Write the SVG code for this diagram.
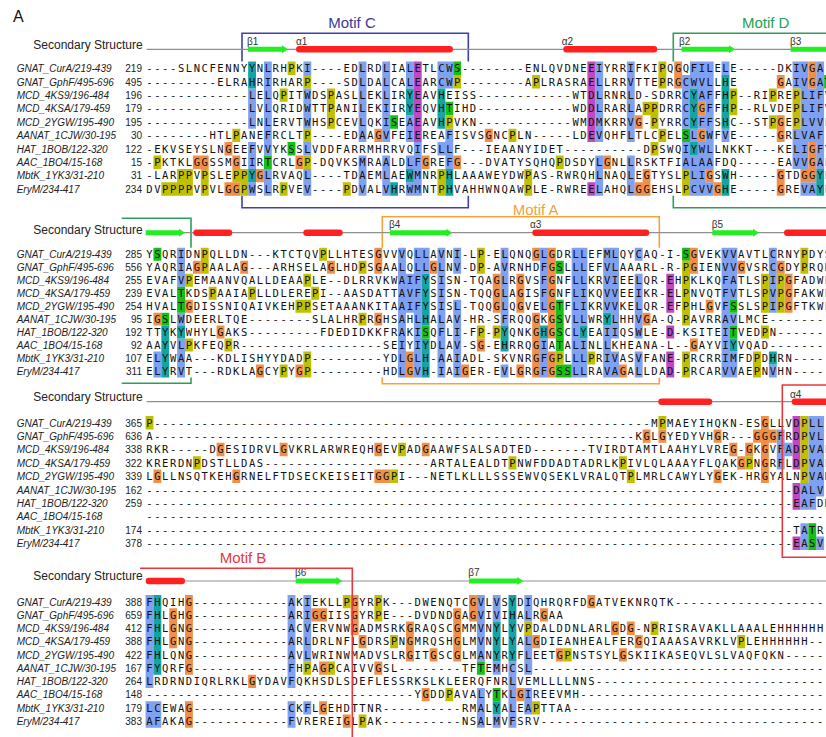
<svg xmlns="http://www.w3.org/2000/svg" width="826" height="737" viewBox="0 0 826 737">
<style>
.b{fill:#80a0f0}.t{fill:#15a4a4}.g{fill:#15c015}.m{fill:#c048c0}.o{fill:#f09048}.y{fill:#c0c000}
.s{font-family:"DejaVu Sans Mono",monospace;font-size:10.5px;letter-spacing:1.5685px;fill:#111}
.n{font-family:"Liberation Sans",Arial,sans-serif;font-size:10px;font-style:italic;fill:#222}
.k{font-family:"Liberation Sans",Arial,sans-serif;font-size:10px;text-anchor:end;fill:#222}
.ss{font-family:"Liberation Sans",Arial,sans-serif;font-size:12px;fill:#222}
.lb{font-family:"Liberation Sans",Arial,sans-serif;font-size:10px;fill:#333}
.mt{font-family:"Liberation Sans",Arial,sans-serif;font-size:15px;text-anchor:middle}
.ln{stroke:#8f8f8f;stroke-width:1.2;fill:none}
.he{fill:#ff2020}.st{fill:#22ee22}
.bx{fill:none;stroke-width:1.6}
</style>
<rect width="826" height="737" fill="#fff"/>
<text x="13" y="21.7" font-family="Liberation Sans, Arial, sans-serif" font-size="16" fill="#111">A</text>

<!-- motif frames (segments outside the alignment rows) -->
<g id="motifs">
<path class="bx" stroke="#4040a8" d="M242 61.6V33.3H468.3V61.6M242 195.7V207.7H468.3V195.7"/>
<path class="bx" stroke="#2e9e5b" d="M826 33.3H673.3V61.6M673.3 195.7V207.7H826M121.7 218.3H191V247.8M191 377.5V383.3H121.7"/>
<path class="bx" stroke="#f5a33a" d="M382.3 247.8V216.7H659.3V247.8M382.3 377.5V383.7H659.3V377.5"/>
<text class="mt" x="352" y="28" fill="#3b3b9e">Motif C</text>
<text class="mt" x="765.7" y="28" fill="#23a152">Motif D</text>
<text class="mt" x="535.7" y="215.2" fill="#f5a03c">Motif A</text>
<text class="mt" x="243" y="563" fill="#e8383a">Motif B</text>
</g>

<!-- secondary structure tracks -->
<g id="ss">
<text class="ss" x="33.3" y="48.6">Secondary Structure</text>
<text class="ss" x="33.3" y="233.6">Secondary Structure</text>
<text class="ss" x="33.3" y="401">Secondary Structure</text>
<text class="ss" x="33.3" y="580">Secondary Structure</text>
<path class="ln" d="M146.7 49.3H826M146.7 232.7H826M146.7 401.7H826M146.7 581H826"/>
<path class="st" d="M248 46.8H282V45.3L288 49.3L282 53.3V51.8H248Z M681.7 46.8H729V45.3L735 49.3L729 53.3V51.8H681.7Z M145.7 230.2H179V228.7L185 232.7L179 236.7V235.2H145.7Z M390 230.2H446.3V228.7L452.3 232.7L446.3 236.7V235.2H390Z M712.3 230.2H753V228.7L759 232.7L753 236.7V235.2H712.3Z M295.7 578.5H336.3V577L342.3 581L336.3 585V583.5H295.7Z M469 578.5H517.3V577L523.3 581L517.3 585V583.5H469Z"/>
<rect class="st" x="790.7" y="46.8" width="40" height="5"/>
<rect class="he" x="296" y="46" width="157" height="6.6" rx="3.3"/>
<rect class="he" x="563.3" y="46" width="94" height="6.6" rx="3.3"/>
<rect class="he" x="193.3" y="229.4" width="39" height="6.6" rx="3.3"/>
<rect class="he" x="303.3" y="229.4" width="39.4" height="6.6" rx="3.3"/>
<rect class="he" x="532.3" y="229.4" width="117" height="6.6" rx="3.3"/>
<rect class="he" x="784" y="229.4" width="50" height="6.6" rx="3.3"/>
<rect class="he" x="658.3" y="398.4" width="54" height="6.6" rx="3.3"/>
<rect class="he" x="791.7" y="398.4" width="40" height="6.6" rx="3.3"/>
<rect class="he" x="145.7" y="577.7" width="39.3" height="6.6" rx="3.3"/>
<text class="lb" x="247" y="45">β1</text>
<text class="lb" x="296" y="45">α1</text>
<text class="lb" x="561.7" y="45">α2</text>
<text class="lb" x="679" y="45">β2</text>
<text class="lb" x="790" y="45">β3</text>
<text class="lb" x="389" y="228">β4</text>
<text class="lb" x="530" y="228">α3</text>
<text class="lb" x="711.7" y="228">β5</text>
<text class="lb" x="790" y="397.5">α4</text>
<text class="lb" x="295" y="576">β6</text>
<text class="lb" x="468.3" y="576">β7</text>
</g>

<!-- block 1 -->
<g id="block1">
<g transform="translate(145.56 61.6) scale(7.89 13.41)">
<path class="b" d="M13 2h1v3h-1zM13 6h1v2h-1zM13 9h1v1h-1zM15 0h1v7h-1zM15 8h1v2h-1zM20 0h1v1h-1zM20 2h1v3h-1zM20 6h1v1h-1zM20 8h1v2h-1zM27 0h1v6h-1zM27 7h1v3h-1zM30 0h1v6h-1zM30 7h1v3h-1zM33 0h1v2h-1zM33 4h1v2h-1zM33 7h1v1h-1zM33 9h1v1h-1zM34 6h1v4h-1zM37 0h1v2h-1zM37 6h1v1h-1zM38 0h1v2h-1zM38 5h1v3h-1zM57 0h1v6h-1zM57 7h1v3h-1zM61 0h1v6h-1zM61 7h1v3h-1zM68 1h1v4h-1zM68 6h1v2h-1zM69 0h1v2h-1zM69 5h1v1h-1zM69 7h1v3h-1zM70 0h1v3h-1zM70 4h1v1h-1zM70 6h1v4h-1zM71 0h1v8h-1zM71 9h1v1h-1zM73 0h1v1h-1zM73 5h1v1h-1zM82 0h1v2h-1zM82 5h1v3h-1zM83 0h1v8h-1zM83 9h1v1h-1zM84 2h1v4h-1zM84 9h1v1h-1zM85 0h1v8h-1z"/>
<path class="t" d="M13 0h1v2h-1zM13 8h1v1h-1zM31 9h1v1h-1zM33 2h1v2h-1zM33 8h1v1h-1zM37 2h1v3h-1zM38 8h1v2h-1zM69 2h1v3h-1zM69 6h1v1h-1zM73 1h1v4h-1zM73 8h1v2h-1zM85 8h1v2h-1z"/>
<path class="g" d="M15 7h1v1h-1zM18 6h1v1h-1zM31 4h1v1h-1zM38 3h1v1h-1zM39 0h1v1h-1zM68 5h1v1h-1zM86 1h1v1h-1z"/>
<path class="m" d="M34 0h1v6h-1zM56 0h1v6h-1zM56 9h1v1h-1z"/>
<path class="o" d="M6 7h2v1h-2zM10 6h1v1h-1zM10 9h2v1h-2zM11 7h1v1h-1zM14 8h1v1h-1zM19 7h1v1h-1zM29 5h1v1h-1zM35 7h1v1h-1zM39 7h1v1h-1zM43 5h1v1h-1zM58 7h1v1h-1zM62 4h1v1h-1zM62 9h2v1h-2zM63 8h1v1h-1zM67 0h1v2h-1zM70 3h1v1h-1zM70 5h1v1h-1zM71 8h1v1h-1zM72 9h1v1h-1zM80 1h1v1h-1zM80 4h1v2h-1zM80 8h1v2h-1zM83 8h1v1h-1zM84 0h1v2h-1zM84 6h1v3h-1z"/>
<path class="y" d="M1 7h1v1h-1zM2 9h4v1h-4zM4 8h2v1h-2zM7 8h1v2h-1zM11 5h1v1h-1zM11 8h2v1h-2zM12 9h1v1h-1zM17 2h1v1h-1zM17 9h1v1h-1zM18 0h1v1h-1zM20 1h1v1h-1zM20 5h1v1h-1zM20 7h1v1h-1zM23 2h1v3h-1zM25 9h1v1h-1zM37 8h1v2h-1zM38 4h1v1h-1zM39 1h1v1h-1zM46 5h1v1h-1zM48 8h1v2h-1zM49 1h1v1h-1zM52 7h1v1h-1zM63 3h2v1h-2zM64 4h1v1h-1zM64 6h1v1h-1zM65 0h1v2h-1zM65 5h1v1h-1zM68 8h1v2h-1zM74 2h1v2h-1zM79 2h1v1h-1zM79 4h1v1h-1zM82 2h1v3h-1z"/>
</g>
<g class="n"><text x="16.7" y="72.1">GNAT_CurA/219-439</text><text x="16.7" y="85.5">GNAT_GphF/495-696</text><text x="16.7" y="98.9">MCD_4KS9/196-484</text><text x="16.7" y="112.3">MCD_4KSA/179-459</text><text x="16.7" y="125.8">MCD_2YGW/195-490</text><text x="16.7" y="139.2">AANAT_1CJW/30-195</text><text x="16.7" y="152.6">HAT_1BOB/122-320</text><text x="16.7" y="166">AAC_1BO4/15-168</text><text x="16.7" y="179.4">MbtK_1YK3/31-210</text><text x="16.7" y="192.8">EryM/234-417</text></g>
<g class="k"><text x="142" y="72.1">219</text><text x="142" y="85.5">495</text><text x="142" y="98.9">196</text><text x="142" y="112.3">179</text><text x="142" y="125.8">195</text><text x="142" y="139.2">30</text><text x="142" y="152.6">122</text><text x="142" y="166">15</text><text x="142" y="179.4">31</text><text x="142" y="192.8">234</text></g>
<g class="s">
<text x="146.34" y="72.1">----SLNCFENNYYNLRHPKI----EDLRDLIALETLCWS--------ENLQVDNEEIYRRIFKIPQGQFILELE-----DKIVGA</text>
<text x="146.34" y="85.5">---------ELRAHRIRHARP----SDLDALCALEARCWP--------APLRASRAELLRRVTTEPRGCWVLLHE</text>
<text x="777.54" y="85.5">GAIVGAT</text>
<text x="146.34" y="98.9">-------------LELQPITWDSPASLLEKLIRYEAVHEISS------------WTDLRNRLD-SDRRCYAFFHP--RIPREPLIFV</text>
<text x="146.34" y="112.3">-------------LVLQRIDWTTPANILEKIIRYEQVHTIHD------------WDDLRARLAPPDRRCYGFFHP--RLVDEPLIFV</text>
<text x="146.34" y="125.8">-------------LNLERVTWHSPCEVLQKISEAEAVHPVKN------------WMDMKRRVG-PYRRCYFFSHC--STPGEPLVVL</text>
<text x="146.34" y="139.2">--------HTLPANEFRCLTP----EDAAGVFEIEREAFISVSGNCPLN-----LDEVQHFLTLCPELSLGWFVE-----GRLVAF</text>
<text x="146.34" y="152.6">-EKVSEYSLNGEEFVVYKSSLVDDFARRMHRRVQIFSLLF---IEAANYIDET----------DPSWQIYWLLNKKT---KELIGFY</text>
<text x="146.34" y="166">-PKTKLGGSSMGIIRTCRLGP-DQVKSMRAALDLFGREFG---DVATYSQHQPDSDYLGNLLRSKTFIALAAFDQ-----EAVVGAL</text>
<text x="146.34" y="179.4">-LARPPVPSLEPPYGLRVAQL----TDAEMLAEWMNRPHLAAAWEYDWPAS-RWRQHLNAQLEGTYSLPLIGSWH-----GTDGGYL</text>
<text x="146.34" y="192.8">DVPPPPVPVLGGPWSLRPVEV----PDVALVHRWMNTPHVAHHWNQAWPLE-RWREELAHQLGGEHSLPCVVGHE-----GREVAYL</text>
</g>
</g>

<!-- block 2 -->
<g id="block2">
<g transform="translate(145.56 247.8) scale(7.89 12.97)">
<path class="b" d="M1 8h1v2h-1zM4 0h1v3h-1zM4 5h1v1h-1zM4 7h1v3h-1zM32 0h1v10h-1zM33 2h1v3h-1zM34 0h1v10h-1zM35 0h1v2h-1zM37 0h1v10h-1zM39 0h1v2h-1zM39 4h1v6h-1zM45 0h1v6h-1zM45 9h1v1h-1zM50 0h1v5h-1zM50 7h1v3h-1zM54 0h1v10h-1zM55 0h1v6h-1zM55 7h1v3h-1zM58 0h1v5h-1zM58 6h1v4h-1zM59 0h1v7h-1zM59 8h1v2h-1zM62 0h1v1h-1zM62 2h1v5h-1zM62 8h1v2h-1zM73 0h1v10h-1zM74 0h1v4h-1zM74 5h1v1h-1zM74 8h1v2h-1zM79 0h1v5h-1zM79 9h1v1h-1z"/>
<path class="t" d="M2 6h1v4h-1zM4 6h1v1h-1zM35 2h1v4h-1zM35 7h1v3h-1zM45 6h1v2h-1zM50 6h1v1h-1zM55 6h1v1h-1zM58 5h1v1h-1zM74 7h1v1h-1zM79 8h1v1h-1z"/>
<path class="g" d="M1 0h1v1h-1zM2 5h1v1h-1zM4 3h1v2h-1zM35 6h1v1h-1zM52 1h1v1h-1zM52 4h1v4h-1zM52 9h2v1h-2zM68 0h1v1h-1zM74 4h1v1h-1zM74 6h1v1h-1z"/>
<path class="m" d="M66 2h1v3h-1zM66 6h1v1h-1zM66 8h1v2h-1z"/>
<path class="o" d="M1 5h1v1h-1zM5 4h1v1h-1zM6 1h1v1h-1zM9 6h1v1h-1zM12 1h1v1h-1zM14 9h1v1h-1zM19 9h1v1h-1zM23 1h1v1h-1zM29 0h1v2h-1zM29 5h1v1h-1zM33 8h1v2h-1zM36 1h1v1h-1zM40 9h1v1h-1zM42 7h1v1h-1zM44 2h1v3h-1zM47 2h1v3h-1zM47 9h1v1h-1zM49 0h1v1h-1zM49 5h1v5h-1zM51 0h1v7h-1zM51 8h1v2h-1zM60 9h1v1h-1zM63 5h1v1h-1zM69 0h1v2h-1zM69 7h1v1h-1zM71 4h1v1h-1zM75 1h1v1h-1zM80 1h1v1h-1zM81 2h1v3h-1z"/>
<path class="y" d="M5 2h1v1h-1zM5 7h1v1h-1zM7 0h1v2h-1zM8 3h1v1h-1zM10 7h1v1h-1zM13 3h1v1h-1zM17 9h1v1h-1zM19 4h2v1h-2zM20 2h1v1h-1zM20 8h1v2h-1zM21 3h1v1h-1zM22 0h1v1h-1zM27 1h1v1h-1zM27 5h1v1h-1zM42 0h1v2h-1zM42 6h1v1h-1zM44 6h1v1h-1zM52 8h1v1h-1zM56 8h1v1h-1zM68 1h1v5h-1zM68 8h1v2h-1zM77 8h1v2h-1zM78 2h1v3h-1zM78 6h1v1h-1zM80 2h1v3h-1zM83 0h1v2h-1z"/>
</g>
<g class="n"><text x="16.7" y="258.1">GNAT_CurA/219-439</text><text x="16.7" y="271.1">GNAT_GphF/495-696</text><text x="16.7" y="284">MCD_4KS9/196-484</text><text x="16.7" y="297">MCD_4KSA/179-459</text><text x="16.7" y="310">MCD_2YGW/195-490</text><text x="16.7" y="322.9">AANAT_1CJW/30-195</text><text x="16.7" y="335.9">HAT_1BOB/122-320</text><text x="16.7" y="348.9">AAC_1BO4/15-168</text><text x="16.7" y="361.9">MbtK_1YK3/31-210</text><text x="16.7" y="374.8">EryM/234-417</text></g>
<g class="k"><text x="142" y="258.1">285</text><text x="142" y="271.1">556</text><text x="142" y="284">255</text><text x="142" y="297">239</text><text x="142" y="310">254</text><text x="142" y="322.9">95</text><text x="142" y="335.9">192</text><text x="142" y="348.9">92</text><text x="142" y="361.9">107</text><text x="142" y="374.8">311</text></g>
<g class="s">
<text x="146.34" y="258.1">YSQRIDNPQLLDN---KTCTQVPLLHTESGVVVQLLAVNI-LP-ELQNQGLGDRLLEFMLQYCAQ-I-SGVEKVVAVTLCRNYPDYS</text>
<text x="146.34" y="271.1">YAQRIAGPAALAG---ARHSELAGLHDPSGAALQLLGLNV-DP-AVRNHDFGSLLLEFVLAAARL-R-PGIENVVGVSRCGDYPRQR</text>
<text x="146.34" y="284">EVAFVPEMAANVQALLDEAAPLE--DLRRVKWAIFYSISN-TQAGLRGVSFGNFLLKRVIEELQR-EHPKLKQFATLSPIPGFADWL</text>
<text x="146.34" y="297">EVALTKDSPAAIAPLLDLEREPI--AASDATTAVFYSISN-TQQGLAGISFGNFLIKQVVEEIKR-ELPNVQTFVTLSPVPGFAKWL</text>
<text x="146.34" y="310">HVALTGDISSNIQAIVKEHPPSETAAANKITAAIFYSISL-TQQGLQGVELGTFLIKRVVKELQR-EFPHLGVFSSLSPIPGFTKWL</text>
<text x="146.34" y="322.9">IGSLWDEERLTQE--------SLALHRPRGHSAHLHALAV-HR-SFRQQGKGSVLLWRYLHHVGA-Q-PAVRRAVLMCE--------</text>
<text x="146.34" y="335.9">TTYKYWHYLGAKS---------FDEDIDKKFRAKISQFLI-FP-PYQNKGHGSCLYEAIIQSWLE-D-KSITEITVEDPN-------</text>
<text x="146.34" y="348.9">AAYVLPKFEQPR------------------SEIYIYDLAV-SG-EHRRQGIATALINLLKHEANA-L--GAYVIYVQAD--------</text>
<text x="146.34" y="361.9">ELYWAA---KDLISHYYDADP---------YDLGLH-AAIADL-SKVNRGFGPLLLPRIVASVFANE-PRCRRIMFDPDHRN-----</text>
<text x="146.34" y="374.8">ELYRVT---RDKLAGCYPYGP---------HDLGVH-IAIGER-EVLGRGFGSSLLRAVAGALLDAD-PRCARVVAEPNVHN-----</text>
</g>
</g>

<!-- block 3 -->
<g id="block3">
<g transform="translate(145.56 416) scale(7.89 13.4)">
<path class="b" d="M80 1h1v3h-1zM81 2h1v1h-1zM83 5h1v2h-1zM83 8h1v2h-1zM84 0h1v7h-1zM85 0h1v6h-1zM85 9h1v1h-1z"/>
<path class="g" d="M84 8h1v2h-1z"/>
<path class="m" d="M82 0h1v4h-1zM82 5h1v2h-1zM82 9h1v1h-1z"/>
<path class="o" d="M1 4h1v1h-1zM9 2h1v1h-1zM11 4h1v1h-1zM17 2h1v1h-1zM29 2h1v1h-1zM29 4h2v1h-2zM35 2h1v1h-1zM63 1h1v1h-1zM65 1h1v1h-1zM72 1h1v1h-1zM72 4h1v1h-1zM74 2h1v1h-1zM75 3h1v1h-1zM76 2h1v1h-1zM77 1h3v1h-3zM78 0h1v5h-1z"/>
<path class="y" d="M0 0h1v1h-1zM6 3h1v1h-1zM31 4h1v1h-1zM32 2h1v1h-1zM46 3h1v1h-1zM60 3h1v1h-1zM61 4h1v1h-1zM65 0h1v1h-1zM76 3h1v1h-1zM83 0h1v5h-1z"/>
</g>
<g class="n"><text x="16.7" y="426.5">GNAT_CurA/219-439</text><text x="16.7" y="439.9">GNAT_GphF/495-696</text><text x="16.7" y="453.3">MCD_4KS9/196-484</text><text x="16.7" y="466.7">MCD_4KSA/179-459</text><text x="16.7" y="480.1">MCD_2YGW/195-490</text><text x="16.7" y="493.5">AANAT_1CJW/30-195</text><text x="16.7" y="506.9">HAT_1BOB/122-320</text><text x="16.7" y="520.3">AAC_1BO4/15-168</text><text x="16.7" y="533.7">MbtK_1YK3/31-210</text><text x="16.7" y="547.1">EryM/234-417</text></g>
<g class="k"><text x="142" y="426.5">365</text><text x="142" y="439.9">636</text><text x="142" y="453.3">338</text><text x="142" y="466.7">322</text><text x="142" y="480.1">339</text><text x="142" y="493.5">162</text><text x="142" y="506.9">259</text><text x="142" y="533.7">174</text><text x="142" y="547.1">378</text></g>
<g class="s">
<text x="146.34" y="426.5">P---------------------------------------------------------------MPMAEYIHQKN-ESGLLVDPLL</text>
<text x="146.34" y="439.9">A-------------------------------------------------------------KGLGYEDYVHGR---GGGFRDPVL</text>
<text x="146.34" y="453.3">RKR-----DGESIDRVLGVKRLARWREQHGEVPADGAAWFSALSADTED-------TVIRDTAMTLAAHYLVREG-GKGVFADPVAF</text>
<text x="146.34" y="466.7">KRERDNPDSTLLDAS---------------------ARTALEALDTPNWFDDADTADRLKPIVLQLAAAYFLQAKGPNGRFLDPVAF</text>
<text x="146.34" y="480.1">LGLLNSQTKEHGRNELFTDSECKEISEITGGPI---NETLKLLLSSSEWVQSEKLVRALQTPLMRLCAWYLYGEK-HRGYALNPVAN</text>
<text x="146.34" y="493.5">----------------------------------------------------------------------------------DALV</text>
<text x="146.34" y="506.9">----------------------------------------------------------------------------------EAFDD</text>
<text x="146.34" y="520.3">---------------------------------------------------------------------------------------</text>
<text x="146.34" y="533.7">----------------------------------------------------------------------------------TATR</text>
<text x="146.34" y="547.1">----------------------------------------------------------------------------------EASV</text>
</g>
<path class="bx" stroke="#e8383a" d="M826 385H782.3V557.3H826"/>
</g>

<!-- block 4 -->
<g id="block4">
<g transform="translate(145.56 595.1) scale(7.89 13.26)">
<path class="b" d="M0 0h1v7h-1zM0 8h2v2h-2zM18 0h1v7h-1zM18 8h1v2h-1zM20 0h1v5h-1zM20 8h1v1h-1zM42 0h1v5h-1zM42 7h1v3h-1zM44 0h1v2h-1zM44 5h1v1h-1zM44 9h1v1h-1zM46 5h1v5h-1zM48 0h1v2h-1zM48 3h1v3h-1zM48 7h1v2h-1z"/>
<path class="t" d="M1 0h1v6h-1zM44 2h1v3h-1zM44 8h1v1h-1zM46 0h1v5h-1z"/>
<path class="g" d="M42 5h1v1h-1zM44 7h1v1h-1z"/>
<path class="o" d="M3 1h1v3h-1zM5 0h1v6h-1zM5 8h1v2h-1zM13 6h1v1h-1zM21 1h2v1h-2zM22 5h1v1h-1zM22 8h1v1h-1zM25 9h1v1h-1zM26 0h1v3h-1zM27 3h1v1h-1zM29 5h1v1h-1zM33 2h1v3h-1zM35 7h1v1h-1zM36 4h1v1h-1zM39 1h1v4h-1zM41 0h1v2h-1zM47 7h1v1h-1zM49 3h1v1h-1zM50 1h1v1h-1zM52 4h1v1h-1zM56 0h1v1h-1zM59 2h1v1h-1zM60 4h1v1h-1zM61 2h1v1h-1zM62 3h1v1h-1z"/>
<path class="y" d="M20 5h1v1h-1zM23 5h1v1h-1zM25 0h1v1h-1zM27 9h1v1h-1zM29 0h1v2h-1zM31 3h1v1h-1zM38 7h1v1h-1zM48 2h1v1h-1zM49 8h1v1h-1zM53 4h1v1h-1zM64 2h1v1h-1zM75 3h1v1h-1z"/>
</g>
<g class="n"><text x="16.7" y="605.5">GNAT_CurA/219-439</text><text x="16.7" y="618.8">GNAT_GphF/495-696</text><text x="16.7" y="632">MCD_4KS9/196-484</text><text x="16.7" y="645.3">MCD_4KSA/179-459</text><text x="16.7" y="658.5">MCD_2YGW/195-490</text><text x="16.7" y="671.8">AANAT_1CJW/30-195</text><text x="16.7" y="685.1">HAT_1BOB/122-320</text><text x="16.7" y="698.3">AAC_1BO4/15-168</text><text x="16.7" y="711.6">MbtK_1YK3/31-210</text><text x="16.7" y="724.8">EryM/234-417</text></g>
<g class="k"><text x="142" y="605.5">388</text><text x="142" y="618.8">659</text><text x="142" y="632">412</text><text x="142" y="645.3">388</text><text x="142" y="658.5">422</text><text x="142" y="671.8">167</text><text x="142" y="685.1">264</text><text x="142" y="698.3">148</text><text x="142" y="711.6">179</text><text x="142" y="724.8">383</text></g>
<g class="s">
<text x="146.34" y="605.5">FHQIHG------------AKIEKLLPGYRPK---DWENQTCGVLVSYDIQHRQRFDGATVEKNRQTK--------------------</text>
<text x="146.34" y="618.8">FHLGHG------------ARIGGIISGYRPE---DVDNDGAGVIVIHALRGAA</text>
<text x="146.34" y="632">FHLGNG------------ACVERVNWGADMSRKGRAQSCGMMVNYLYVPDALDDNLARLGDG-NPRISRAVAKLLAAALEHHHHHH</text>
<text x="146.34" y="645.3">FHLGNG------------ARLDRLNFLGDRSPNGMRQSHGLMVNYLYALGDIEANHEALFERGQIAAASAVRKLVPLEHHHHHH--</text>
<text x="146.34" y="658.5">FHLQNG------------AVLWRINWMADVSLRGITGSCGLMANYRYFLEETGPNSTSYLGSKIIKASEQVLSLVAQFQKN-----</text>
<text x="146.34" y="671.8">FYQRFG------------FHPAGPCAIVVGSL--------TFTEMHCSL--------------------------------------</text>
<text x="146.34" y="685.1">LRDRNDIQRLRKLGYDAVFQKHSDLSDEFLESSRKSLKLEERQFNRLVEMLLLLNNS------------------------------</text>
<text x="146.34" y="698.3">----------------------------------YGDDPAVALYTKLGIREEVMH--------------------------------</text>
<text x="146.34" y="711.6">LCEWAG------------CKFLGEHDTTNR----------RMALYALEAPTTAA---------------------------------</text>
<text x="146.34" y="724.8">AFAKAG------------FVREREIGLPAK----------NSALMVFSRV-------------------------------------</text>
</g>
<path class="bx" stroke="#e8383a" d="M140 568.3H352.3V737"/>
</g>
</svg>
